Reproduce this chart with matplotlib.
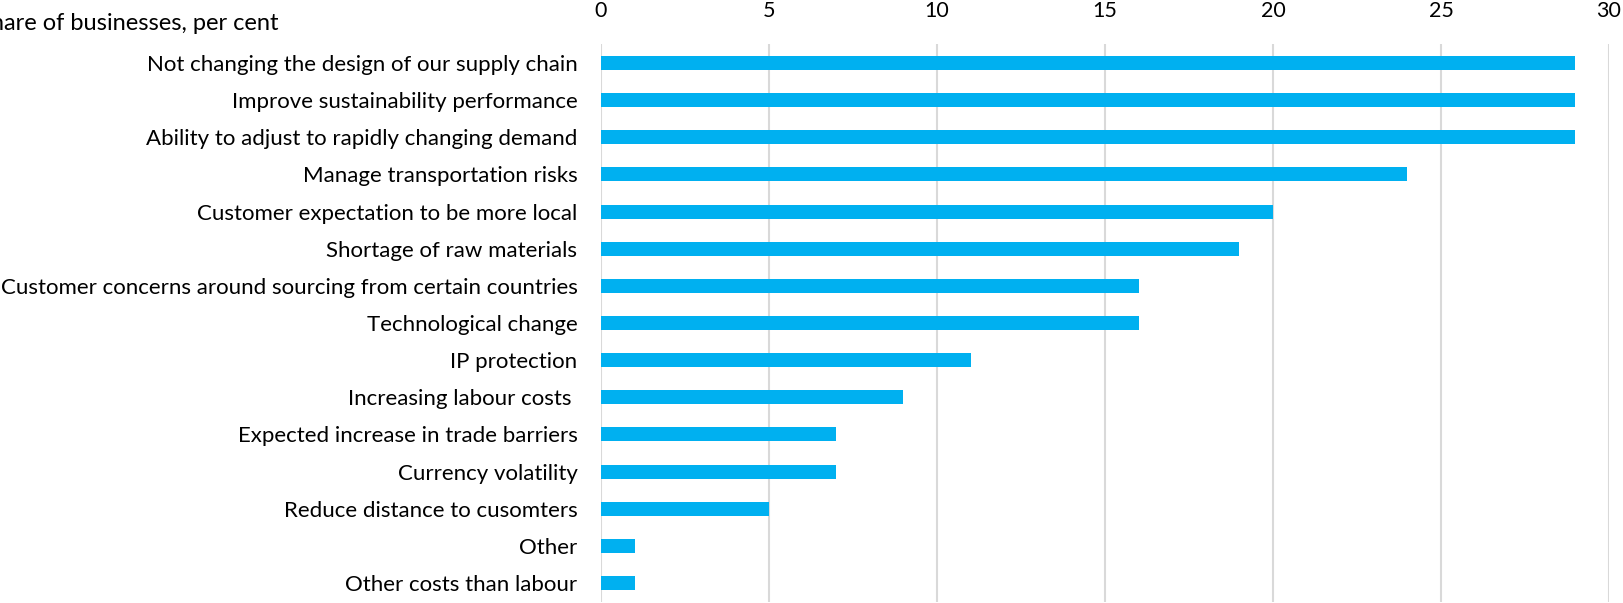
import numpy as np
import matplotlib
matplotlib.use("Agg")
import matplotlib.pyplot as plt

plt.rcParams["font.family"] = ["Lato", "DejaVu Sans"]

# reasons for changing supply chain design, share of businesses (per cent)
reasons = [
    "Not changing the design of our supply chain",
    "Improve sustainability performance",
    "Ability to adjust to rapidly changing demand",
    "Manage transportation risks",
    "Customer expectation to be more local",
    "Shortage of raw materials",
    "Customer concerns around sourcing from certain countries",
    "Technological change",
    "IP protection",
    "Increasing labour costs ",
    "Expected increase in trade barriers",
    "Currency volatility",
    "Reduce distance to cusomters",
    "Other",
    "Other costs than labour",
]
shares = [29, 29, 29, 24, 20, 19, 16, 16, 11, 9, 7, 7, 5, 1, 1]
xticks = [0, 5, 10, 15, 20, 25, 30]

W, H = 1624, 603
fig = plt.figure(figsize=(W / 100, H / 100), dpi=100)
ax = fig.add_axes([601 / W, 1 - 601.6 / H, (1609 - 601) / W, (601.6 - 44.4) / H])

pos = np.arange(len(reasons))
ax.barh(pos, shares, height=0.38, color="#00B0F0", zorder=3)

ax.set_ylim(len(reasons) - 0.5, -0.5)
ax.set_xlim(0, 30)
ax.set_xticks(xticks)
ax.set_yticks(pos)
ax.set_yticklabels(reasons)
ax.xaxis.tick_top()
ax.tick_params(axis="x", length=0, pad=17, labelsize=15.5)
ax.tick_params(axis="y", length=0, pad=17, labelsize=16)
ax.grid(axis="x", color="#D9D9D9", linewidth=1.5, zorder=0)
for s in ax.spines.values():
    s.set_visible(False)

# axis title sits top-left, running past the left edge of the canvas
fig.text(278 / W, 1 - 24 / H, "Share of businesses, per cent", ha="right", va="center", fontsize=17)

fig.savefig("out.png", dpi=100)
